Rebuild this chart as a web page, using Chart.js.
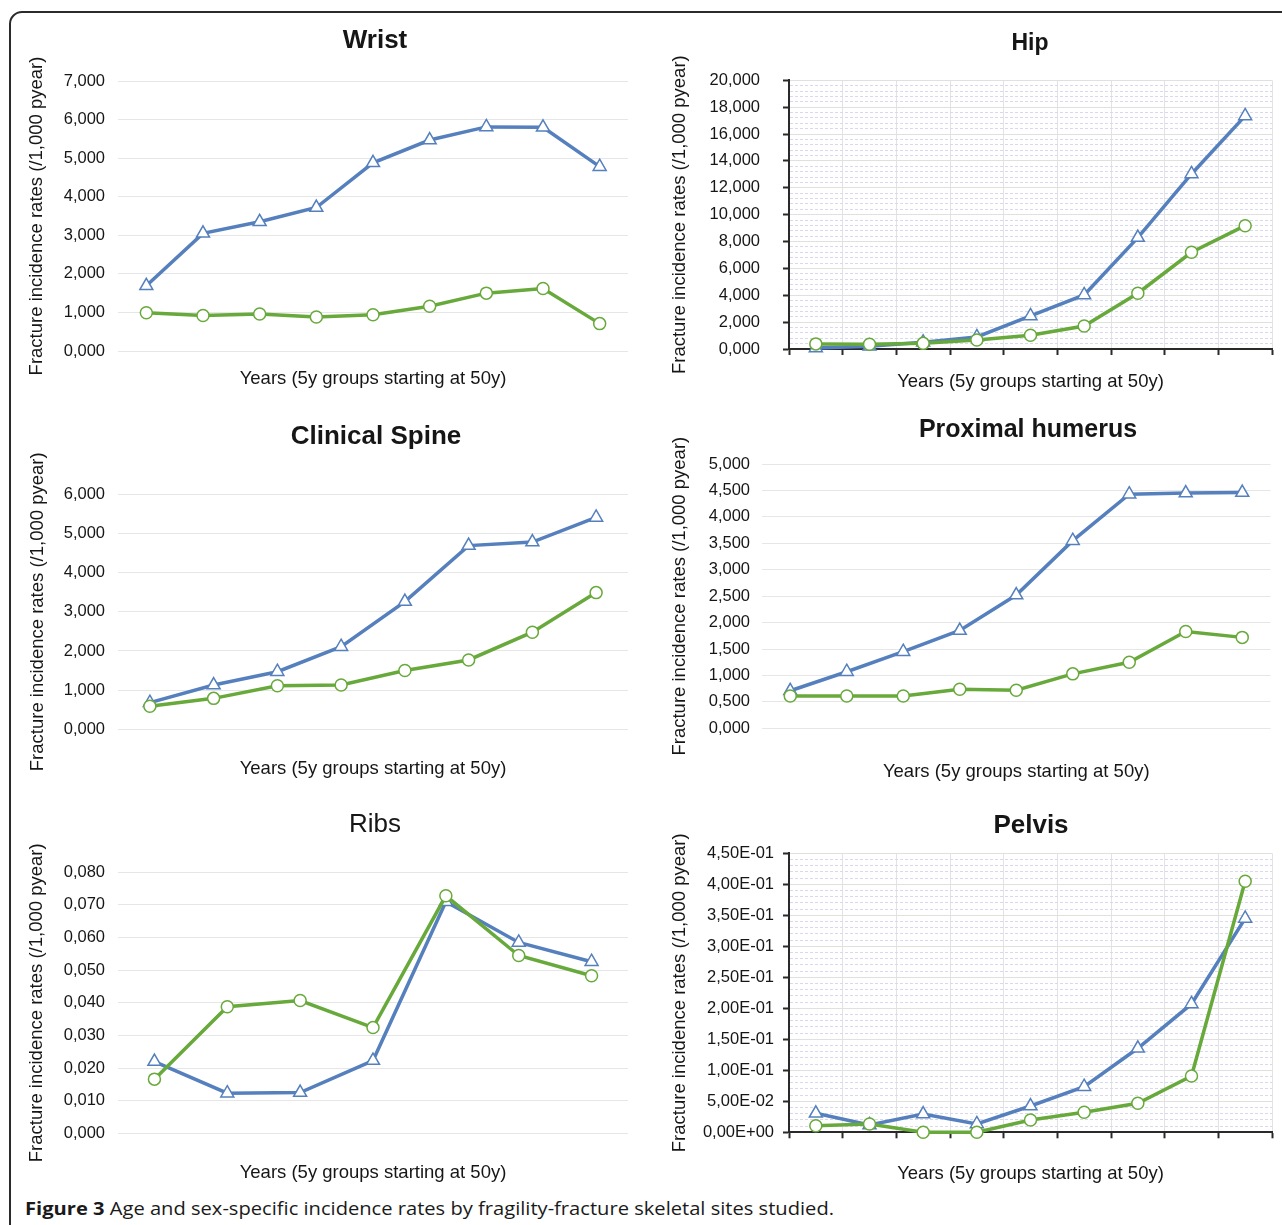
<!DOCTYPE html>
<html>
<head>
<meta charset="utf-8">
<title>Fracture incidence by skeletal site</title>
<script src="https://cdn.jsdelivr.net/npm/chart.js@4.4.1/dist/chart.umd.min.js"></script>
<style>
  html, body { margin: 0; padding: 0; background: #fff; width: 1282px; height: 1225px; overflow: hidden; }
  #figure { position: relative; width: 1282px; height: 1225px; }
  .frame { position: absolute; left: 9px; top: 11px; width: 1320px; height: 1260px;
           border: 2px solid #2b2b2b; border-radius: 13px; box-sizing: border-box; }
  canvas { position: absolute; }
  #caption { position: absolute; left: 25px; top: 1196px; font-family: 'Open Sans', 'Noto Sans', sans-serif;
             font-size: 17.5px; line-height: 24px; color: #1a1a1a; white-space: nowrap; transform-origin: 0 50%; }
  #caption b { font-weight: 700; }
</style>
</head>
<body>
<div id="figure">
  <div class="frame"></div>
  <canvas id="wrist"></canvas>
  <canvas id="hip"></canvas>
  <canvas id="spine"></canvas>
  <canvas id="humerus"></canvas>
  <canvas id="ribs"></canvas>
  <canvas id="pelvis"></canvas>
  <div id="caption"><b>Figure 3</b> Age and sex-specific incidence rates by fragility-fracture skeletal sites studied.</div>
</div>
<script>
// Five-year age groups starting at 50 years
const ageGroups = ['50–54', '55–59', '60–64', '65–69', '70–74', '75–79', '80–84', '85–89', '90–94'];

// Incidence rates per site (/1,000 person-years)
const wristWomen = [1.69, 3.05, 3.35, 3.72, 4.88, 5.47, 5.81, 5.80, 4.78];
const wristMen   = [0.99, 0.92, 0.96, 0.88, 0.94, 1.16, 1.50, 1.62, 0.71];

const hipWomen = [0.08, 0.20, 0.50, 0.90, 2.46, 4.02, 8.29, 13.03, 17.35];
const hipMen   = [0.38, 0.35, 0.42, 0.67, 1.02, 1.71, 4.15, 7.20, 9.18];

const spineWomen = [0.68, 1.13, 1.47, 2.11, 3.26, 4.69, 4.78, 5.41];
const spineMen   = [0.59, 0.79, 1.11, 1.13, 1.50, 1.77, 2.48, 3.49];

const humerusWomen = [0.71, 1.07, 1.45, 1.85, 2.52, 3.55, 4.43, 4.45, 4.46];
const humerusMen   = [0.61, 0.61, 0.61, 0.74, 0.72, 1.03, 1.25, 1.83, 1.72];

const ribsWomen = [0.0220, 0.0123, 0.0125, 0.0223, 0.0710, 0.0585, 0.0526];
const ribsMen   = [0.0166, 0.0388, 0.0407, 0.0324, 0.0728, 0.0545, 0.0483];

const pelvisWomen = [0.0306, 0.0118, 0.0295, 0.0134, 0.0424, 0.0735, 0.1355, 0.2070, 0.3450];
const pelvisMen   = [0.0106, 0.0134, 0.0000, 0.0000, 0.0198, 0.0323, 0.0468, 0.0908, 0.4050];

// Axis ranges: [max, labelled step, minor step]
const wristAxis   = [7, 1];
const hipAxis     = [20, 2, 0.4];
const spineAxis   = [6, 1];
const humerusAxis = [5, 0.5];
const ribsAxis    = [0.08, 0.01];
const pelvisAxis  = [0.45, 0.05, 0.01];

const yAxisTitle = 'Fracture incidence rates (/1,000 pyear)';
const xAxisTitle = 'Years (5y groups starting at 50y)';

// ---- styling ----
const BLUE = '#5580bd';
const GREEN = '#68a93b';
const TEXT = '#161616';
const FAMILY = "'Liberation Sans', Arial, Helvetica, sans-serif";
Chart.defaults.font.family = FAMILY;
Chart.defaults.color = TEXT;

const fmtDecimal = v => v.toFixed(3).replace('.', ',');
const fmtSci = v => {
  const parts = v.toExponential(2).split('e');
  const e = parseInt(parts[1], 10);
  return parts[0].replace('.', ',') + 'E' + (e < 0 ? '-' : '+') + String(Math.abs(e)).padStart(2, '0');
};

// Panel heading drawn centred at a fixed spot above the plot
const panelTitle = {
  id: 'panelTitle',
  afterDraw(chart, args, o) {
    const ctx = chart.ctx;
    ctx.save();
    ctx.font = `${o.weight} ${o.size}px ${FAMILY}`;
    ctx.fillStyle = TEXT;
    ctx.textAlign = 'center';
    ctx.textBaseline = 'middle';
    ctx.fillText(o.text, o.x, o.y);
    ctx.restore();
  }
};

const AXIS_TITLE_SIZE = 18.5;
const TITLE_HALF = AXIS_TITLE_SIZE * 1.2 / 2;

function buildPanel(p) {
  const cv = document.getElementById(p.id);
  cv.width = p.box.w; cv.height = p.box.h;
  cv.style.left = p.box.x + 'px'; cv.style.top = p.box.y + 'px';
  cv.style.width = p.box.w + 'px'; cv.style.height = p.box.h + 'px';

  const [yMax, major, minor] = p.axis;
  const framed = !!minor;
  const isMajor = v => Math.abs(v / major - Math.round(v / major)) < 1e-6;
  const padLeft = p.yTitleX - TITLE_HALF;
  const xBottom = p.xTitleY + TITLE_HALF;
  const tickLen = framed ? 6 : 0;

  const line = (label, data, color, style, radius) => ({
    label, data,
    borderColor: color, borderWidth: 3.5,
    pointStyle: style, pointRadius: radius, pointBorderWidth: 1.5,
    pointBorderColor: color, pointBackgroundColor: '#ffffff',
    tension: 0, clip: false
  });

  return new Chart(cv, {
    type: 'line',
    data: {
      labels: ageGroups.slice(0, p.women.length),
      datasets: [
        line('Men', p.men, GREEN, 'circle', 6),
        line('Women', p.women, BLUE, 'triangle', 7.5)
      ]
    },
    options: {
      responsive: false,
      animation: false,
      devicePixelRatio: 1,
      events: [],
      layout: { padding: { left: padLeft, right: p.box.w - p.area.r, top: p.area.t, bottom: p.box.h - xBottom } },
      plugins: {
        legend: { display: false },
        tooltip: { enabled: false },
        panelTitle: p.title
      },
      scales: {
        x: {
          type: 'category',
          offset: true,
          afterFit: s => { s.height = xBottom - p.area.b; },
          grid: framed
            ? { display: true, offset: true, color: '#e3e3e3', lineWidth: 1, drawTicks: true,
                tickLength: 6, tickWidth: 2, tickColor: '#2a2a2a' }
            : { display: false },
          border: framed ? { display: true, color: '#2a2a2a', width: 2 } : { display: false },
          ticks: { display: false },
          title: { display: true, text: xAxisTitle, color: TEXT, font: { size: AXIS_TITLE_SIZE }, padding: { top: 0, bottom: 0 } }
        },
        y: {
          min: 0, max: yMax,
          afterFit: s => { s.width = p.area.l - padLeft; },
          border: framed
            ? { display: true, color: '#2a2a2a', width: 2,
                dash: c => (c.tick && !isMajor(c.tick.value)) ? [3, 2] : [] }
            : { display: false },
          grid: {
            color: c => framed
              ? (c.tick && isMajor(c.tick.value) ? '#e0e0e0' : '#d8d9ef')
              : '#e6e6e6',
            lineWidth: 1,
            drawTicks: framed,
            tickLength: tickLen,
            tickWidth: 2,
            tickColor: c => (c.tick && isMajor(c.tick.value)) ? '#2a2a2a' : 'rgba(0,0,0,0)'
          },
          ticks: {
            stepSize: framed ? minor : major,
            autoSkip: false,
            padding: p.labelGap - tickLen,
            color: TEXT,
            font: { size: 16.5 },
            callback: v => isMajor(v) ? p.fmt(v) : ''
          },
          title: { display: true, text: yAxisTitle, color: TEXT, font: { size: AXIS_TITLE_SIZE }, padding: { top: 0, bottom: 0 } }
        }
      }
    },
    plugins: [panelTitle]
  });
}

const panels = [
  { id: 'wrist', women: wristWomen, men: wristMen, axis: wristAxis, fmt: fmtDecimal,
    box: { x: 0, y: 0, w: 640, h: 400 }, area: { l: 118, r: 628, t: 81, b: 351 },
    yTitleX: 37, xTitleY: 379, labelGap: 13,
    title: { text: 'Wrist', x: 375, y: 41, size: 26, weight: 'bold' } },
  { id: 'hip', women: hipWomen, men: hipMen, axis: hipAxis, fmt: fmtDecimal,
    box: { x: 640, y: 0, w: 642, h: 400 }, area: { l: 149, r: 632, t: 80.3, b: 349 },
    yTitleX: 40, xTitleY: 382, labelGap: 29,
    title: { text: 'Hip', x: 390, y: 43.5, size: 23, weight: 'bold' } },
  { id: 'spine', women: spineWomen, men: spineMen, axis: spineAxis, fmt: fmtDecimal,
    box: { x: 0, y: 400, w: 640, h: 390 }, area: { l: 118, r: 628, t: 94.3, b: 329.3 },
    yTitleX: 37.5, xTitleY: 368.5, labelGap: 13,
    title: { text: 'Clinical Spine', x: 376, y: 37, size: 26, weight: 'bold' } },
  { id: 'humerus', women: humerusWomen, men: humerusMen, axis: humerusAxis, fmt: fmtDecimal,
    box: { x: 640, y: 400, w: 642, h: 390 }, area: { l: 122, r: 630.5, t: 64, b: 328.3 },
    yTitleX: 40, xTitleY: 371.5, labelGap: 12,
    title: { text: 'Proximal humerus', x: 388, y: 30, size: 25, weight: 'bold' } },
  { id: 'ribs', women: ribsWomen, men: ribsMen, axis: ribsAxis, fmt: fmtDecimal,
    box: { x: 0, y: 790, w: 640, h: 400 }, area: { l: 118, r: 628, t: 82.3, b: 343.3 },
    yTitleX: 37, xTitleY: 382.5, labelGap: 13,
    title: { text: 'Ribs', x: 375, y: 35, size: 26, weight: 'normal' } },
  { id: 'pelvis', women: pelvisWomen, men: pelvisMen, axis: pelvisAxis, fmt: fmtSci,
    box: { x: 640, y: 790, w: 642, h: 400 }, area: { l: 149, r: 632, t: 63.3, b: 342.3 },
    yTitleX: 40, xTitleY: 384, labelGap: 15,
    title: { text: 'Pelvis', x: 391, y: 35.5, size: 26, weight: 'bold' } }
];

panels.forEach(buildPanel);

// Fit the figure caption to its line width
const cap = document.getElementById('caption');
const fitCaption = () => {
  cap.style.transform = 'none';
  const w = cap.getBoundingClientRect().width;
  cap.style.transform = `scaleX(${809 / w})`;
};
fitCaption();
if (document.fonts && document.fonts.ready) document.fonts.ready.then(fitCaption);
</script>
</body>
</html>
